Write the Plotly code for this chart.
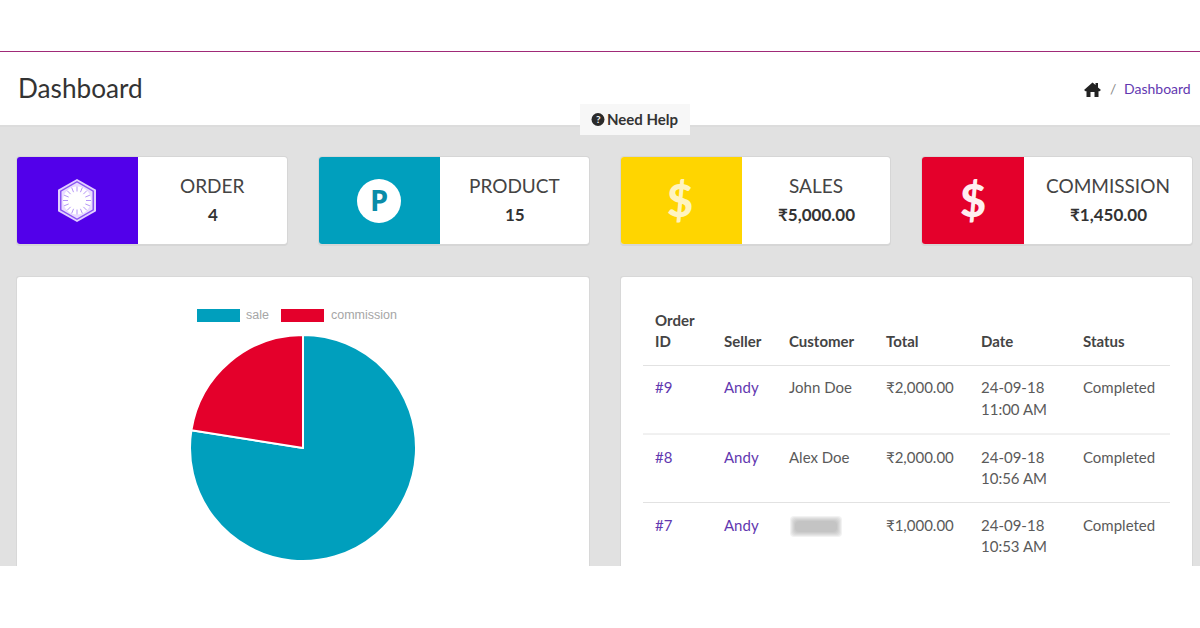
import math

import plotly.graph_objects as go

# --- data ---
PIE_LABELS = ["sale", "commission"]
PIE_VALUES = [5000, 1450]
PIE_COLORS = ["#009fbd", "#e4002b"]

CARD_TITLES = ["ORDER", "PRODUCT", "SALES", "COMMISSION"]
CARD_VALUES = ["4", "15", "₹5,000.00", "₹1,450.00"]
CARD_COLORS = ["#5200ea", "#009fbd", "#ffd500", "#e4002b"]

TABLE_HEADER = ["ID", "Seller", "Customer", "Total", "Date", "Status"]
ORDER_IDS = ["#9", "#8", "#7"]
SELLERS = ["Andy", "Andy", "Andy"]
CUSTOMERS = ["John Doe", "Alex Doe", ""]
TOTALS = ["₹2,000.00", "₹2,000.00", "₹1,000.00"]
DATES = ["24-09-18", "24-09-18", "24-09-18"]
TIMES = ["11:00 AM", "10:56 AM", "10:53 AM"]
STATUSES = ["Completed", "Completed", "Completed"]

MUTED = "#5a5a5a"
LINK = "#6238b0"
FONT = "Lato"
W, H = 1200, 628

shapes = []
annotations = []


def px_(x):
    return x / W


def py_(y):
    return 1 - y / H


def pt(x, y):
    return f"{px_(x)},{py_(y)}"


def add_shape(**kw):
    # below, otherwise the paper shapes cover the pie
    shapes.append(dict(xref="paper", yref="paper", layer="below", **kw))


def rect(x0, y0, x1, y1, color):
    add_shape(type="rect", x0=px_(x0), y0=py_(y0), x1=px_(x1), y1=py_(y1), fillcolor=color, line_width=0)


def hline(x0, x1, y, color, width=1):
    add_shape(type="line", x0=px_(x0), x1=px_(x1), y0=py_(y), y1=py_(y), line=dict(color=color, width=width))


def polygon(points, color):
    path = "M" + " L".join(pt(x, y) for x, y in points) + " Z"
    add_shape(type="path", path=path, fillcolor=color, line_width=0)


def round_rect(x0, y0, x1, y1, color, r=3, left=True, right=True, opacity=1):
    rl = r if left else 0
    rr = r if right else 0
    path = (
        f"M{pt(x0 + rl, y0)} L{pt(x1 - rr, y0)} Q{pt(x1, y0)} {pt(x1, y0 + rr)} L{pt(x1, y1 - rr)} "
        f"Q{pt(x1, y1)} {pt(x1 - rr, y1)} L{pt(x0 + rl, y1)} Q{pt(x0, y1)} {pt(x0, y1 - rl)} "
        f"L{pt(x0, y0 + rl)} Q{pt(x0, y0)} {pt(x0 + rl, y0)} Z"
    )
    add_shape(type="path", path=path, fillcolor=color, line_width=0, opacity=opacity)


def circle(cx, cy, r, color):
    add_shape(
        type="circle", x0=px_(cx - r), y0=py_(cy - r), x1=px_(cx + r), y1=py_(cy + r), fillcolor=color, line_width=0
    )


def label(x, y, text, size=15, color=MUTED, anchor="left", weight=400, family=FONT):
    annotations.append(
        dict(
            x=px_(x), y=py_(y), xref="paper", yref="paper", text=text, showarrow=False,
            xanchor=anchor, yanchor="middle", borderpad=0,
            font=dict(size=size, color=color, family=family, weight=weight),
        )
    )


def hexagon(cx, cy, w, h, color):
    polygon(
        [
            (cx, cy - h / 2), (cx + w / 2, cy - h / 4), (cx + w / 2, cy + h / 4),
            (cx, cy + h / 2), (cx - w / 2, cy + h / 4), (cx - w / 2, cy - h / 4),
        ],
        color,
    )


# page background
rect(0, 126, W, 566, "#e1e1e1")
hline(0, W, 51.5, "#a02a78")
rect(0, 125, W, 127, "#dcdcdc")
rect(580, 104, 690, 135, "#f7f7f7")

# header
label(16.5, 87.5, "Dashboard", size=26.2, color="#333333")
label(1113, 88.5, "/", size=14, color="#888888", anchor="center")
label(1123, 88.5, "Dashboard", size=14, color=LINK)
polygon(
    [
        (1084, 90), (1092.5, 82.5), (1095.5, 85), (1095.5, 83), (1098, 83), (1098, 87.5), (1101, 90), (1099, 91.5),
        (1098.5, 91), (1098.5, 97), (1094.5, 97), (1094.5, 92), (1090.5, 92), (1090.5, 97), (1086.5, 97),
        (1086.5, 91), (1086, 91.5),
    ],
    "#222222",
)
circle(598, 119.5, 6.5, "#2a2a2a")
label(598, 119, "?", size=10, color="#f7f7f7", anchor="center", weight=700)
label(606, 119, "Need Help", size=15, color="#333333", weight=700)

# stat cards
CARD_X = [(17, 138, 287), (319, 440, 589), (621, 742, 890), (922, 1024, 1192)]
for (x0, xm, x1), title, value, color in zip(CARD_X, CARD_TITLES, CARD_VALUES, CARD_COLORS):
    round_rect(x0 - 1, 156, x1 + 1, 246, "#d6d6d6", r=4)
    round_rect(x0, 157, x1, 244, "#ffffff", r=3)
    round_rect(x0, 157, xm, 244, color, r=3, right=False)
    mid = (xm + x1) / 2
    label(mid - 0.5, 185, title, size=19, color="#444444", anchor="center")
    label(mid + 0.5, 214, value, size=17, color="#333333", anchor="center", weight=700)

# order icon
hexagon(77, 200.5, 38, 43, "#e2d0ff")
hexagon(77, 200.5, 34, 39, "#8a55f2")
hexagon(77, 200.5, 31, 36, "#e9dcff")
circle(77, 200.5, 14, "#ffffff")
for k in range(16):
    a = 2 * math.pi * k / 16
    add_shape(
        type="line",
        x0=px_(77 + 9 * math.cos(a)), y0=py_(200.5 + 9 * math.sin(a)),
        x1=px_(77 + 14 * math.cos(a)), y1=py_(200.5 + 14 * math.sin(a)),
        line=dict(color="#b596f7", width=1),
    )
# product icon
circle(379, 201, 22, "#ffffff")
label(379, 200, "P", size=29, color="#0a8ca8", anchor="center", weight=700, family="Open Sans")
# dollar icons
label(680, 200, "$", size=45, color="#fff4c0", anchor="center", weight=900)
label(973, 200, "$", size=45, color="#ffeef0", anchor="center", weight=900)

# bottom panels
round_rect(16, 276, 590, 575, "#d8d8d8", r=3)
round_rect(17, 277, 589, 575, "#ffffff", r=3)
round_rect(620, 276, 1193, 575, "#d8d8d8", r=3)
round_rect(621, 277, 1192, 575, "#ffffff", r=3)
rect(0, 566, W, H, "#ffffff")

# pie legend
LEGEND_X = [(197, 240, 245), (281, 324, 330)]
for (x0, x1, tx), name, color in zip(LEGEND_X, PIE_LABELS, PIE_COLORS):
    rect(x0, 309, x1, 322, color)
    label(tx, 315, name, size=12.5, color="#a6a6a6", family="Liberation Sans")

# table
COL_X = [653.5, 723, 788, 885, 980, 1082]
label(COL_X[0], 319.5, "Order", size=15, color="#444444", weight=700)
for x, head in zip(COL_X, TABLE_HEADER):
    label(x, 340.5, head, size=15, color="#444444", weight=700)

LINE_Y = [365.5, 434, 502.5]
ROW_Y = [387.5, 456.5, 524.5]
for row, (line_y, y) in enumerate(zip(LINE_Y, ROW_Y)):
    hline(643, 1170, line_y, "#e2e2e2")
    label(COL_X[0], y, ORDER_IDS[row], color=LINK)
    label(COL_X[1], y, SELLERS[row], color=LINK)
    if CUSTOMERS[row]:
        label(COL_X[2], y, CUSTOMERS[row])
    label(COL_X[3], y, TOTALS[row])
    label(COL_X[4], y, DATES[row])
    label(COL_X[4], y + 21, TIMES[row])
    label(COL_X[5], y, STATUSES[row])

# blurred customer name
for inset in range(0, 6):
    round_rect(790 + inset, 516 + inset, 842 - inset, 537 - inset, "#9a9a9a", r=4, opacity=0.13)

fig = go.Figure(
    go.Pie(
        labels=PIE_LABELS,
        values=PIE_VALUES,
        marker=dict(colors=PIE_COLORS, line=dict(color="#ffffff", width=2)),
        sort=False,
        direction="clockwise",
        rotation=0,
        textinfo="none",
        hoverinfo="label+value",
        domain=dict(x=[190 / W, 416 / W], y=[1 - 561 / H, 1 - 335 / H]),
    )
)

fig.update_layout(
    width=W,
    height=H,
    showlegend=False,
    paper_bgcolor="white",
    plot_bgcolor="white",
    margin=dict(t=0, l=0, b=0, r=0),
    shapes=shapes,
    annotations=annotations,
)

# the default page has an 8px body margin, which would push the figure off the window
fig.write_html(
    "out.html",
    config=dict(displayModeBar=False),
    post_script="document.body.style.margin='0';document.body.style.overflow='hidden';",
)
